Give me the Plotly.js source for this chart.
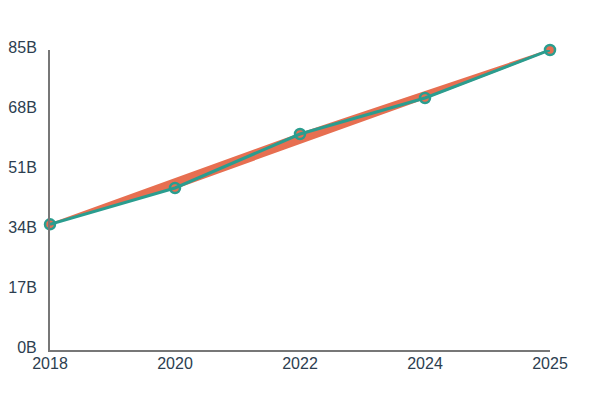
<!DOCTYPE html>
<html>
<head>
<meta charset="utf-8">
<script src="https://cdn.plot.ly/plotly-3.0.1.min.js"></script>
<style>
  html, body { margin: 0; padding: 0; background: #fff; }
  #chart { width: 600px; height: 400px; }
</style>
</head>
<body>
<div id="chart"></div>
<script>
// yearly values, in billions
const YEARS = ["2018", "2020", "2022", "2024", "2025"];
const VALUES = [35.6, 45.9, 61.2, 71.4, 85];
// order in which the orange area visits the points (it was drawn unsorted)
const ORANGE_ORDER = [0, 2, 4, 3, 1];
const Y_TICKS = [0, 17, 34, 51, 68, 85];
const Y_TICK_TEXT = ["0B", "17B", "34B", "51B", "68B", "85B"];

const ORANGE = "#e76f51";
const TEAL = "#2a9d8f";
const INK = "#2c3e50";
const AXIS = "#777777";

const traces = [
  {
    x: ORANGE_ORDER.map((i) => YEARS[i]),
    y: ORANGE_ORDER.map((i) => VALUES[i]),
    type: "scatter",
    mode: "lines+markers",
    fill: "toself",
    fillcolor: ORANGE,
    line: { color: ORANGE, width: 2 },
    marker: { color: ORANGE, size: 9 },
    cliponaxis: false,
    hoverinfo: "skip",
  },
  {
    x: YEARS,
    y: VALUES,
    type: "scatter",
    mode: "lines+markers",
    line: { color: TEAL, width: 3 },
    marker: { symbol: "circle-open", color: TEAL, size: 10, line: { width: 2.5, color: TEAL } },
    cliponaxis: false,
  },
];

const layout = {
  width: 600,
  height: 400,
  margin: { l: 50, r: 50, t: 50, b: 50 },
  paper_bgcolor: "#fff",
  plot_bgcolor: "#fff",
  showlegend: false,
  font: { family: "Liberation Sans, Arial, sans-serif", size: 16, color: INK },
  xaxis: {
    type: "category",
    categoryorder: "array",
    categoryarray: YEARS,
    range: [0, 4],
    showgrid: false,
    zeroline: false,
    showline: true,
    linecolor: AXIS,
    linewidth: 2,
    ticks: "",
    ticklabelstandoff: -2,
    tickfont: { size: 16, color: INK },
  },
  yaxis: {
    range: [0, 85],
    tickmode: "array",
    tickvals: Y_TICKS,
    ticktext: Y_TICK_TEXT,
    showgrid: false,
    zeroline: false,
    showline: true,
    linecolor: AXIS,
    linewidth: 2,
    ticks: "",
    ticklabelstandoff: 8,
    ticklabelshift: -3,
    tickfont: { size: 16, color: INK },
  },
};

Plotly.newPlot("chart", traces, layout, { displayModeBar: false, staticPlot: true });
</script>
</body>
</html>
